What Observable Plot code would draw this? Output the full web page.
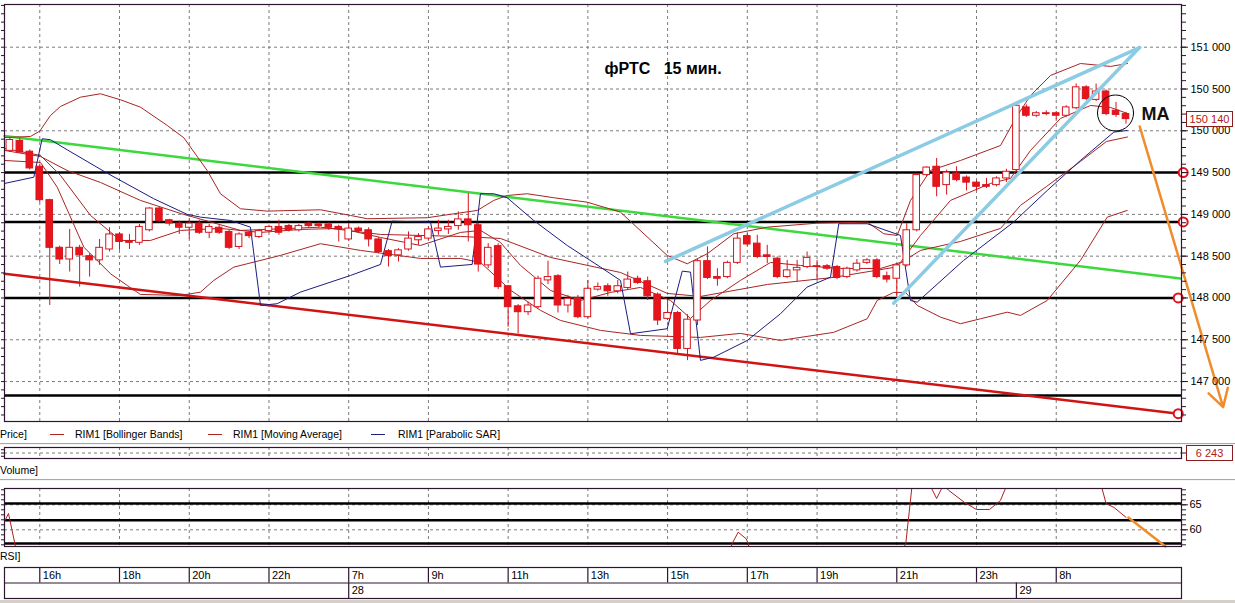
<!DOCTYPE html>
<html><head><meta charset="utf-8">
<script src="https://cdn.jsdelivr.net/npm/d3@7"></script>
<script src="https://cdn.jsdelivr.net/npm/@observablehq/plot@0.6"></script>
<style>
html,body{margin:0;padding:0;background:#fff;}
#wrap{position:relative;width:1235px;height:603px;overflow:hidden;font-family:"Liberation Sans",Arial,sans-serif;background:#fff;}
#wrap > *{position:absolute;}
.lbl{font-size:10.5px;color:#000;white-space:nowrap;line-height:14px;}
.dash{height:0;border-top:1px solid #b02020;}
.sep{left:0;width:1235px;height:1px;background:#a8a8a8;border-bottom:1px solid #f4f4f4;}
.box{border:1px solid #8a1c1c;color:#b01818;font-size:11px;line-height:14px;height:14px;text-align:center;background:#fff;}
</style></head><body><div id="wrap"></div>
<script>
// ---------- data ----------
const timeIdx = [3, 11, 18, 26, 34, 42, 50, 58, 66, 74, 81, 89, 97, 105];
const timeLabels = ["16h","18h","20h","22h","7h","9h","11h","13h","15h","17h","19h","21h","23h","8h"];
const dayIdx = [34, 101];
const dayLabels = ["28", "29"];
const priceTicks = [147000, 147500, 148000, 148500, 149000, 149500, 150000, 150500, 151000];

const open = [149760,149880,149750,149570,149170,148600,148460,148600,148500,148450,148580,148760,148680,148660,148810,149070,148930,148890,148840,148890,148780,148840,148790,148610,148780,148730,148800,148850,148860,148810,148890,148880,148880,148850,148700,148830,148810,148700,148560,148510,148580,148690,148710,148800,148820,148860,148940,148870,148390,148620,148140,147900,147830,147890,148210,148260,147910,148000,147770,148100,148140,148080,148120,148230,148200,148040,147750,147820,147390,147730,148440,148250,148250,148420,148740,148650,148510,148470,148250,148330,148370,148380,148380,148370,148250,148330,148420,148450,148260,148230,148390,148810,149470,149570,149350,149490,149440,149380,149350,149350,149430,149530,150280,150180,150210,150210,150180,150270,150520,150370,150470,150240,150200];
const high = [149920,149910,149770,149600,149180,148620,148820,148630,148530,148700,148840,148780,148760,148880,149080,149090,148940,148920,148950,148930,148880,148870,148810,148780,148790,148820,148870,148930,148880,148880,148910,148900,148900,148870,148890,148850,148840,148720,148580,148590,148790,148770,148850,148930,148930,149030,149250,148890,148650,148650,148150,147920,147950,148260,148440,148280,148030,148030,148210,148180,148170,148210,148310,148260,148250,148060,147970,147840,147800,148460,148610,148350,148440,148780,148770,148750,148630,148490,148450,148450,148550,148450,148400,148390,148370,148460,148470,148470,148310,148410,148890,149490,149570,149670,149530,149570,149460,149400,149430,149450,149540,150340,150310,150230,150240,150230,150300,150560,150540,150560,150490,150340,150220];
const low = [149740,149730,149530,149140,147910,148400,148310,148130,148250,148390,148550,148570,148580,148630,148790,148900,148860,148760,148700,148760,148710,148760,148580,148580,148710,148710,148780,148750,148790,148790,148840,148840,148810,148670,148680,148780,148610,148530,148370,148430,148560,148630,148690,148750,148760,148810,148670,148310,148350,148100,147650,147570,147790,147870,148160,147820,147820,147750,147750,148080,148020,148050,148100,148160,147970,147670,147730,147330,147250,147670,148220,148140,148230,148400,148620,148470,148410,148230,148230,148190,148350,148210,148330,148220,148230,148310,148400,148230,148180,148010,148370,148790,149450,149210,149230,149390,149280,149280,149310,149330,149380,149510,150160,150160,150180,150130,150160,150250,150360,150350,150180,150160,150080];
const close = [149890,149740,149550,149170,148600,148460,148600,148510,148450,148600,148760,148670,148660,148850,149070,148920,148890,148840,148890,148780,148850,148780,148600,148760,148740,148800,148850,148780,148810,148860,148860,148860,148840,148820,148830,148800,148700,148550,148500,148570,148710,148730,148820,148830,148850,148940,148870,148400,148600,148130,147890,147830,147910,148230,148250,147910,147990,147770,148110,148130,148080,148140,148220,148180,148020,147730,147820,147390,147740,148440,148240,148230,148420,148710,148640,148490,148490,148250,148330,148360,148480,148370,148350,148240,148350,148410,148450,148250,148220,148390,148810,149470,149560,149330,149500,149410,149380,149330,149330,149430,149510,150300,150180,150210,150200,150180,150280,150520,150380,150470,150200,150190,150140];

// indicators: [bar index, price]
const bbUpper = [[-0.54,149920],[2.07,149932],[3,149996],[4.07,150183],[5.08,150291],[7.08,150402],[9.09,150443],[11.1,150371],[13.1,150283],[15.79,150064],[17.45,149917],[19.8,149525],[21.13,149247],[23.14,149067],[25.82,149039],[31.17,149055],[34.18,148987],[35.86,148948],[41.88,148960],[44.55,149007],[46.9,149047],[48.56,149167],[49.9,149226],[51.91,149247],[54.58,149199],[57.93,149146],[61.27,149027],[65.96,148509],[67.97,148409],[69.98,148529],[72.64,148768],[76,148847],[81.01,148895],[86.03,148907],[87.7,148768],[89.04,148748],[90.38,149167],[92.38,149526],[95.4,149645],[99.41,149824],[100.91,150147],[102.42,150423],[104.43,150662],[107.43,150805],[110.45,150770],[112.15,150805]];
const bbMiddle = [[-0.54,149765],[3.07,149693],[5.75,149525],[9.09,149382],[13.1,149167],[17.12,149011],[23.14,148808],[31.17,148847],[37.19,148760],[45.22,148736],[49.23,148712],[54.25,148485],[61.27,148305],[65.99,148054],[69.3,148018],[76.03,148162],[82.65,148246],[88.67,148365],[91.38,148569],[95.39,148676],[99.41,148832],[101.41,149107],[104.03,149334],[107.43,149633],[110.04,149872],[112.15,149926]];
const bbLower = [[-0.54,149645],[3.07,149621],[4.75,149326],[7.42,148608],[10.1,148290],[11.77,148150],[13.1,148042],[17.12,148030],[19.13,148070],[20.46,148210],[22.47,148369],[27.15,148509],[31.17,148649],[35.18,148569],[41.2,148473],[45.22,148473],[47.23,148425],[50.27,148090],[53.25,147851],[55.25,147731],[59.27,147612],[63.28,147552],[69.3,147528],[73.31,147576],[77.33,147492],[82.65,147588],[86.03,147751],[87.03,147970],[88.67,148066],[89.88,148066],[91.05,147911],[93.38,147771],[95.39,147692],[97.4,147751],[100.08,147830],[101.41,147791],[104.09,147970],[107.43,148449],[110.12,148967],[112.12,149047]];
const movAvg = [[-0.54,149789],[3.07,149705],[5.08,149466],[8.09,148987],[11.1,148688],[14.11,148688],[17.12,148808],[21.13,148832],[25.15,148784],[29.16,148820],[33.18,148832],[37.19,148724],[41.2,148628],[45.22,148784],[47.23,148808],[49.23,148664],[51.24,148389],[54.25,148090],[57.26,147970],[60.27,148066],[63.28,148126],[66.29,147970],[68.3,147755],[70.31,147970],[73.31,148210],[76.33,148425],[79.34,148389],[83.35,148353],[87.37,148353],[89.37,148425],[91.38,148748],[94.39,149167],[98.4,149370],[100.41,149430],[102.42,149765],[105.43,150148],[108.44,150303],[110.45,150279],[112.15,150207]];
const sar = [[-0.54,149370],[2.4,149445],[3.24,149905],[4.07,149893],[5.75,149773],[9.76,149493],[14.44,149187],[17.79,149000],[19.13,148967],[22.14,148927],[24.14,148847],[25.15,147911],[26.82,147931],[29.16,148070],[34.18,148269],[37.19,148401],[38.36,148919],[42.2,148907],[43.21,148369],[46.39,148401],[47.22,149247],[48.56,149247],[49.9,149199],[52.57,148927],[55.93,148628],[59.27,148369],[61.27,148210],[62.28,147572],[65.96,147632],[67.47,148321],[68.3,148309],[69.3,147253],[70.64,147292],[74,147492],[77.33,147811],[80,148130],[82.35,148249],[83.18,148888],[86.03,148888],[89.37,148748],[90.38,147970],[91.05,147950],[95.7,148449],[100.72,148907],[104.1,149286],[107.43,149645],[110.78,149984],[112.12,150004]];

// drawn annotations
const levels = [149500, 148910, 148000, 146833];
const greenLine = [[-0.54,149938],[117.47,148233]];
const redLine = [[-0.54,148290],[117.27,146615]];
const blueLineA = [[65.79,148437],[113.36,150996]];
const blueLineB = [[88.7,147938],[113.36,150996]];
const levelMarks = [[117.74,149500],[117.74,148910],[117.24,148000],[117.24,146615]];
const arrowMain = [{x1:113.38, y1:150051, x2:121.75, y2:146694}];
const circleMA = [[110.95,150213]];
const lastPrice = 150140;
const lastVolume = 6243;

// RSI
const rsiSeg1 = [[-0.54,61.66],[-0.14,63.26],[0.56,56.66],[0.76,55.46]];
const rsiSeg2 = [[72.1,54.6],[72.47,57.2],[73.08,59.52],[73.89,58.2],[74.1,57.2],[74.3,54.6]];
const rsiSeg3 = [[89,53.9],[89.9,57.2],[90.5,68.26],[90.9,71.9],[91.6,71.9],[92.5,68.26],[93,66.26],[93.5,68.26],[93.8,68.7],[94.2,67.9],[95.8,65.46],[97,64.06],[98.3,64.06],[99.4,65.86],[99.9,68.26],[100.4,70.9]];
const rsiSeg4 = [[109.2,70.9],[109.6,68.26],[110,65.26],[110.8,64.46],[112,62.5]];
const rsiLevels = [65.26, 61.9, 57.26];
const rsiArrow = [[112.24,62.46],[115.96,56.66]];

// ---------- rendering ----------
const X_DOMAIN = [-0.54, 117.57];
const FONT = "Liberation Sans, Arial, sans-serif";
const fmtSp = d3.formatLocale({decimal: ".", thousands: " ", grouping: [3], currency: ["", ""]}).format(",");
const minorTicks = d3.range(146600, 151501, 100);
const FRAME = "#2e1630";
const GRID = {stroke: "#7c7c7c", strokeOpacity: 1, strokeDasharray: "3,3", strokeWidth: 1};
const candles = open.map((o, i) => ({i, o, h: high[i], l: low[i], c: close[i], up: close[i] >= o}));
const px = d => d[0], py = d => d[1];
const wrap = document.getElementById("wrap");

const main = Plot.plot({
  width: 1235, height: 425, marginTop: 4, marginBottom: 4, marginLeft: 4, marginRight: 54,
  x: {domain: X_DOMAIN, axis: null},
  y: {domain: [146522, 151511], axis: null},
  style: {fontFamily: FONT, fontSize: "11px", background: "transparent", overflow: "visible"},
  marks: [
    Plot.ruleY(priceTicks, {...GRID}),
    Plot.ruleX(timeIdx, {...GRID}),
    Plot.ruleY(levels, {stroke: "#000", strokeWidth: 2.5}),
    Plot.line(greenLine, {x: px, y: py, stroke: "#3cd83c", strokeWidth: 2.5}),
    Plot.line(redLine, {x: px, y: py, stroke: "#d01414", strokeWidth: 2.5}),
    Plot.line(bbUpper, {x: px, y: py, stroke: "#a82424", strokeWidth: 1, clip: true}),
    Plot.line(bbMiddle, {x: px, y: py, stroke: "#a82424", strokeWidth: 1, clip: true}),
    Plot.line(bbLower, {x: px, y: py, stroke: "#a82424", strokeWidth: 1, clip: true}),
    Plot.line(movAvg, {x: px, y: py, stroke: "#b02020", strokeWidth: 1, clip: true}),
    Plot.line(sar, {x: px, y: py, stroke: "#1c1c82", strokeWidth: 1, clip: true}),
    Plot.ruleX(candles, {x: "i", y1: "l", y2: "h", stroke: "#d8141c", strokeWidth: 1}),
    Plot.rect(candles, {x1: d => d.i - 0.33, x2: d => d.i + 0.33, y1: "o", y2: "c",
      fill: d => d.up ? "#ffffff" : "#e8141c", stroke: "#d8141c", strokeWidth: 1}),
    Plot.line(blueLineA, {x: px, y: py, stroke: "#8ccbe4", strokeWidth: 3.5}),
    Plot.line(blueLineB, {x: px, y: py, stroke: "#8ccbe4", strokeWidth: 3.5}),
    Plot.dot(circleMA, {x: px, y: py, r: 18, stroke: "#000", fill: "none", strokeWidth: 1}),
    Plot.arrow(arrowMain, {x1: "x1", y1: "y1", x2: "x2", y2: "y2", stroke: "#f08c2c", strokeWidth: 2.5, headLength: 12}),
    Plot.dot(levelMarks, {x: px, y: py, r: 4.5, stroke: "#e0101c", strokeWidth: 2, fill: "#fff"}),
    Plot.text([[59.67, 150746]], {x: px, y: py, text: () => "фРТС\u00a0\u00a0 15 мин.", textAnchor: "start",
      fontWeight: "bold", fontSize: 16, fill: "#000"}),
    Plot.text([[113.56, 150195]], {x: px, y: py, text: () => "MA", textAnchor: "start",
      fontWeight: "bold", fontSize: 18, fill: "#111"}),
    Plot.axisY({anchor: "left", ticks: minorTicks, tickSize: 3, tickFormat: () => "", label: null, stroke: FRAME}),
    Plot.axisY({anchor: "right", ticks: minorTicks, tickSize: 4, tickFormat: () => "", label: null, stroke: FRAME}),
    Plot.axisY({anchor: "right", ticks: priceTicks, tickSize: 6, tickPadding: 3, tickFormat: fmtSp, label: null, stroke: FRAME, fill: "#000"}),
    Plot.frame({stroke: FRAME, strokeWidth: 1.2})
  ]
});
main.style.left = "0px"; main.style.top = "0px";
wrap.appendChild(main);

// current price box
const yLast = main.scale("y").apply(lastPrice);
const pbox = document.createElement("div");
pbox.className = "box";
pbox.style.cssText = `left:1186px;top:${yLast - 8}px;width:45px;`;
pbox.textContent = fmtSp(lastPrice);
wrap.appendChild(pbox);

// legend row
function addDiv(cls, css, text) {
  const d = document.createElement("div");
  d.className = cls; d.style.cssText = css; if (text) d.textContent = text;
  wrap.appendChild(d); return d;
}
addDiv("lbl", "left:0px;top:427px;", "Price]");
addDiv("dash", "left:50px;top:434px;width:14px;border-color:#b02020;");
addDiv("lbl", "left:75px;top:427px;", "RIM1 [Bollinger Bands]");
addDiv("dash", "left:208px;top:434px;width:14px;border-color:#b02020;");
addDiv("lbl", "left:233px;top:427px;", "RIM1 [Moving Average]");
addDiv("dash", "left:371px;top:434px;width:14px;border-color:#202080;");
addDiv("lbl", "left:398px;top:427px;", "RIM1 [Parabolic SAR]");
addDiv("sep", "top:443px;");
addDiv("sep", "top:479px;");
addDiv("lbl", "left:0px;top:463px;", "Volume]");
addDiv("lbl", "left:0px;top:549px;", "RSI]");
addDiv("", "left:0;top:600px;width:1235px;height:3px;background:#d4d0c8;");

// volume panel
const vol = Plot.plot({
  width: 1235, height: 25, marginTop: 7, marginBottom: 7, marginLeft: 4, marginRight: 54,
  x: {domain: X_DOMAIN, axis: null},
  y: {domain: [0, 12500], axis: null},
  style: {fontFamily: FONT, fontSize: "11px", background: "transparent", overflow: "visible"},
  marks: [
    Plot.ruleY([lastVolume], {...GRID}),
    Plot.ruleX(timeIdx, {...GRID}),
    Plot.axisY({anchor: "left", ticks: [2500, 6250, 10000], tickSize: 3, tickFormat: () => "", label: null, stroke: FRAME}),
    Plot.axisY({anchor: "right", ticks: [lastVolume], tickSize: 5, tickFormat: () => "", label: null, stroke: FRAME}),
    Plot.frame({stroke: FRAME, strokeWidth: 1.2})
  ]
});
vol.style.left = "0px"; vol.style.top = "440px";
wrap.appendChild(vol);
const yVol = 440 + vol.scale("y").apply(lastVolume);
addDiv("box", `left:1186px;top:${yVol - 8}px;width:45px;`, fmtSp(lastVolume));

// RSI panel
const rsi = Plot.plot({
  width: 1235, height: 70, marginTop: 8, marginBottom: 4, marginLeft: 4, marginRight: 54,
  x: {domain: X_DOMAIN, axis: null},
  y: {domain: [56.66, 68.26], axis: null},
  style: {fontFamily: FONT, fontSize: "11px", background: "transparent", overflow: "visible"},
  marks: [
    Plot.ruleY([60, 65], {...GRID}),
    Plot.ruleX(timeIdx, {...GRID}),
    Plot.ruleY(rsiLevels, {stroke: "#000", strokeWidth: 2.5}),
    ...[rsiSeg1, rsiSeg2, rsiSeg3, rsiSeg4].map(s => Plot.line(s, {x: px, y: py, stroke: "#b02020", strokeWidth: 1, clip: true})),
    Plot.line(rsiArrow, {x: px, y: py, stroke: "#f08c2c", strokeWidth: 2.5}),
    Plot.axisY({anchor: "left", ticks: d3.range(57, 69), tickSize: 3, tickFormat: () => "", label: null, stroke: FRAME}),
    Plot.axisY({anchor: "right", ticks: d3.range(57, 69), tickSize: 4, tickFormat: () => "", label: null, stroke: FRAME}),
    Plot.axisY({anchor: "right", ticks: [60, 65], tickSize: 6, tickPadding: 2, tickFormat: d => String(d), label: null, stroke: FRAME, fill: "#000"}),
    Plot.frame({stroke: FRAME, strokeWidth: 1.2})
  ]
});
rsi.style.left = "0px"; rsi.style.top = "480px";
wrap.appendChild(rsi);

// time axis table
const tt = Plot.plot({
  width: 1235, height: 36, marginTop: 2, marginBottom: 3, marginLeft: 4, marginRight: 54,
  x: {domain: X_DOMAIN, axis: null},
  y: {domain: [0, 2], axis: null},
  style: {fontFamily: FONT, fontSize: "11px", background: "transparent", overflow: "visible"},
  marks: [
    Plot.ruleY([1], {stroke: FRAME, strokeWidth: 1.2}),
    Plot.ruleX(timeIdx, {y1: 1, y2: 2, stroke: FRAME, strokeWidth: 1.2}),
    Plot.ruleX(dayIdx, {y1: 0, y2: 1, stroke: FRAME, strokeWidth: 1.2}),
    Plot.text(timeIdx, {x: d => d, y: 1.5, text: (d, i) => timeLabels[i], textAnchor: "start", dx: 3, fill: "#000"}),
    Plot.text(dayIdx, {x: d => d, y: 0.5, text: (d, i) => dayLabels[i], textAnchor: "start", dx: 3, fill: "#000"}),
    Plot.frame({stroke: FRAME, strokeWidth: 1.2})
  ]
});
tt.style.left = "0px"; tt.style.top = "565px";
wrap.appendChild(tt);
</script></body></html>
